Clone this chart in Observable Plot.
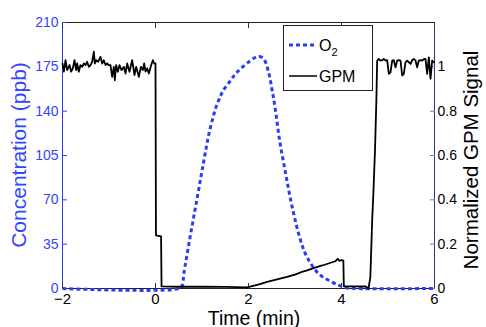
<!DOCTYPE html>
<html>
<head>
<meta charset="utf-8">
<script src="https://cdn.jsdelivr.net/npm/d3@7"></script>
<script src="https://cdn.jsdelivr.net/npm/@observablehq/plot@0.6"></script>
<style>
  html, body { margin: 0; padding: 0; background: #fff; }
  #chart { width: 486px; height: 327px; }
</style>
</head>
<body>
<div id="chart"></div>
<script>
// ---------- data ----------
const xTicks = [-2, 0, 2, 4, 6];
const leftTicks = [0, 35, 70, 105, 140, 175, 210];
const rightTicks = [0, 0.2, 0.4, 0.6, 0.8, 1];
const gpmFullScale = 175; // ppb position of GPM = 1 (right axis 0..1.2)

const o2Time = [-2, 0.5, 0.574, 0.609, 0.731, 0.86, 0.989, 1.05, 1.1, 1.16, 1.23, 1.29, 1.37, 1.455, 1.613, 1.72, 1.864, 2.043, 2.15, 2.2, 2.27, 2.35, 2.44, 2.51, 2.57, 2.67, 2.8, 2.94, 3.12, 3.26, 3.51, 3.73, 3.95, 4.1, 4.3, 6];
const o2Value = [0, 0, 2.4, 11.6, 37.9, 64.2, 90.5, 103, 113, 124, 134, 142, 149.5, 156.2, 164.1, 169.4, 174.6, 179.9, 182.5, 183, 182.8, 179.9, 169.4, 156.2, 143.1, 116.8, 90.5, 64.2, 37.9, 24.7, 11.6, 6.3, 2.5, 0.6, 0, 0];

const gpmTime = [-2.0, -1.971, -1.935, -1.9, -1.849, -1.814, -1.778, -1.742, -1.706, -1.685, -1.649, -1.613, -1.577, -1.541, -1.505, -1.47, -1.434, -1.398, -1.362, -1.326, -1.305, -1.276, -1.233, -1.183, -1.147, -1.111, -1.075, -1.039, -1.004, -0.968, -0.932, -0.896, -0.875, -0.846, -0.81, -0.774, -0.731, -0.681, -0.645, -0.609, -0.559, -0.502, -0.452, -0.416, -0.358, -0.315, -0.272, -0.244, -0.215, -0.179, -0.143, -0.093, -0.057, -0.029, 0.0,
  0.01, 0.12, 0.13, 0.5, 1.0, 1.5, 1.97, 2.1, 2.25, 2.4, 2.55, 2.7, 2.83, 3.0, 3.15, 3.26, 3.4, 3.55, 3.62, 3.75, 3.87, 3.92, 3.95, 4.0, 4.04, 4.05, 4.3, 4.52, 4.58, 4.62, 4.66, 4.68, 4.72, 4.75, 4.767,
  4.8, 4.839, 4.875, 4.91, 4.95, 4.982, 5.018, 5.054, 5.09, 5.125, 5.161, 5.197, 5.233, 5.269, 5.305, 5.34, 5.376, 5.412, 5.45, 5.484, 5.52, 5.555, 5.59, 5.627, 5.663, 5.7, 5.735, 5.77, 5.806, 5.842, 5.878, 5.914, 5.95, 5.99];
const gpmValue = [1.015, 0.978, 1.03, 0.985, 1.008, 0.978, 0.993, 1.03, 0.985, 1.015, 0.978, 1.008, 1.0, 1.015, 1.008, 1.023, 1.0, 1.008, 1.023, 1.068, 1.015, 1.03, 1.023, 1.045, 1.015, 1.03, 1.008, 1.015, 1.008, 1.008, 0.955, 1.0, 0.94, 1.008, 0.978, 1.008, 0.985, 1.0, 0.97, 1.015, 0.978, 1.03, 0.963, 1.0, 0.955, 1.0, 0.985, 1.015, 0.978, 0.993, 0.97, 1.008, 1.03, 1.015, 1.015,
  0.24, 0.235, 0.01, 0.008, 0.008, 0.007, 0.005, 0.012, 0.02, 0.03, 0.038, 0.046, 0.052, 0.063, 0.075, 0.082, 0.092, 0.102, 0.106, 0.115, 0.123, 0.134, 0.125, 0.128, 0.126, 0.01, 0.01, 0.009, 0.0, 0.05, 0.31, 0.4, 0.62, 0.85, 1.027,
  1.036, 1.028, 1.03, 1.036, 1.028, 1.03, 0.968, 0.975, 1.028, 1.03, 0.998, 1.028, 1.03, 1.028, 0.961, 0.968, 1.02, 1.028, 1.02, 1.013, 1.03, 1.036, 1.03, 0.998, 1.028, 1.03, 1.028, 1.035, 1.036, 0.968, 1.043, 0.946, 1.028, 1.02];

// ---------- build ----------
const blue = "#2b3cf5";
const blueText = "#3344ff";
const o2 = o2Time.map((t, i) => ({t, v: o2Value[i]}));
const gpm = gpmTime.map((t, i) => ({t, v: gpmValue[i] * gpmFullScale}));
const fmtR = d3.format(".1~f");
const fmtX = d => d < 0 ? "\u2212" + Math.abs(d) : String(d);

const W = 486, H = 327, mL = 62, mR = 52, mT = 22, mB = 39;

const plot = Plot.plot({
  width: W, height: H,
  marginLeft: mL, marginRight: mR, marginTop: mT, marginBottom: mB,
  style: {fontFamily: "'Liberation Sans', Arial, Helvetica, sans-serif", fontSize: "14px", background: "#fff", color: "#000"},
  x: {domain: [-2, 6]},
  y: {domain: [0, 210]},
  marks: [
    Plot.frame({stroke: "#222", strokeWidth: 1}),
    Plot.ruleX([-2], {stroke: blue, strokeWidth: 1}),
    Plot.ruleX([6], {stroke: "#34346e", strokeWidth: 1}),
    Plot.axisX({ticks: xTicks, tickFormat: fmtX, tickSize: -5, tickPadding: 10, label: null, stroke: "#333", fill: "#000", fontSize: 15}),
    Plot.axisX({anchor: "top", ticks: xTicks, tickSize: -5, fill: "none", label: null, stroke: "#333"}),
    Plot.axisY({ticks: leftTicks, tickSize: -5, tickPadding: 9, label: null, stroke: blue, fill: blueText, fontSize: 14}),
    Plot.axisY({anchor: "right", ticks: rightTicks.map(v => v * gpmFullScale), tickFormat: d => fmtR(d / gpmFullScale), tickSize: -5, tickPadding: 8, label: null, stroke: "#6677dd", fill: "#000", fontSize: 14}),
    Plot.line(o2, {x: "t", y: "v", stroke: blue, strokeWidth: 3, strokeDasharray: "4,3", strokeLinecap: "butt", curve: "catmull-rom"}),
    Plot.line(gpm, {x: "t", y: "v", stroke: "#000", strokeWidth: 1.8, curve: "linear"})
  ]
});

const svg = d3.select(plot);
const font = "'Liberation Sans', Arial, Helvetica, sans-serif";
// axis titles
svg.append("text").attr("x", 254).attr("y", 324.5).attr("text-anchor", "middle")
  .attr("font-family", font).attr("font-size", 19.5).attr("fill", "#000").text("Time (min)");
svg.append("text").attr("transform", "translate(26,155) rotate(-90)").attr("text-anchor", "middle")
  .attr("font-family", font).attr("font-size", 21).attr("fill", blueText).text("Concentration (ppb)");
svg.append("text").attr("transform", "translate(478,160) rotate(-90)").attr("text-anchor", "middle")
  .attr("font-family", font).attr("font-size", 20.5).attr("fill", "#000").text("Normalized GPM Signal");

// legend
const lg = svg.append("g").attr("text-anchor", "start");
lg.append("rect").attr("x", 283.5).attr("y", 25.5).attr("width", 89).attr("height", 65)
  .attr("fill", "#fff").attr("stroke", "#222").attr("stroke-width", 1);
lg.append("line").attr("x1", 289).attr("x2", 317).attr("y1", 45).attr("y2", 45)
  .attr("stroke", blue).attr("stroke-width", 3).attr("stroke-dasharray", "4,3");
const o2t = lg.append("text").attr("x", 319).attr("y", 50.5).attr("text-anchor", "start").attr("font-family", font).attr("font-size", 16).attr("fill", "#000");
o2t.append("tspan").text("O");
o2t.append("tspan").attr("dy", 5).attr("font-size", 11).text("2");
lg.append("line").attr("x1", 289).attr("x2", 317).attr("y1", 76).attr("y2", 76)
  .attr("stroke", "#000").attr("stroke-width", 1.5);
lg.append("text").attr("x", 319).attr("y", 81.5).attr("text-anchor", "start").attr("font-family", font).attr("font-size", 16).attr("fill", "#000").text("GPM");

document.getElementById("chart").appendChild(plot);
</script>
</body>
</html>
